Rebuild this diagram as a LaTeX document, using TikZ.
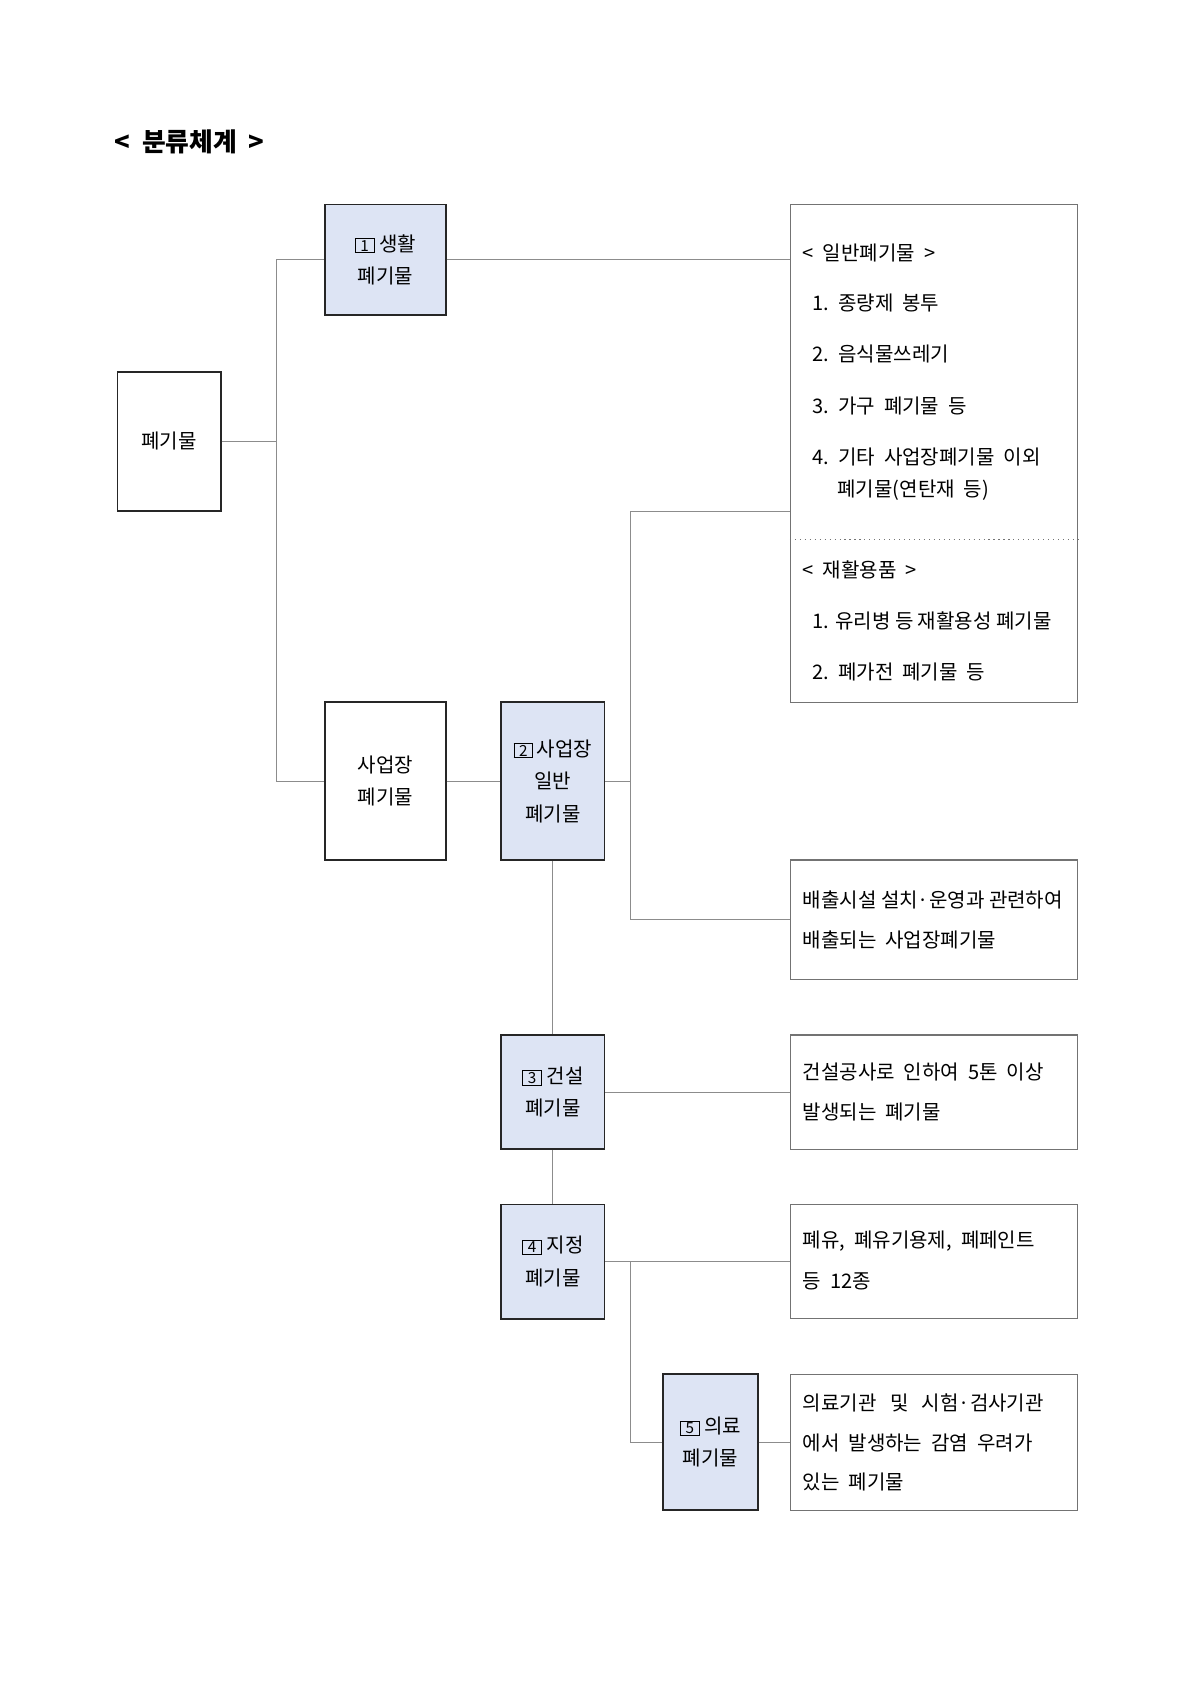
\documentclass[tikz,border=0pt]{standalone}
\usepackage{fontspec}
\setmainfont{Noto Sans CJK KR}
\usetikzlibrary{positioning}
\definecolor{boxblue}{HTML}{DDE4F4}
\newcommand{\numbx}[1]{{\setlength{\fboxsep}{0.5pt}\setlength{\fboxrule}{0.5pt}\fbox{\makebox[0.8em]{\footnotesize #1}}}}
\tikzset{
  cat/.style = {rectangle, draw = black!85, line width = 0.9pt, align = center, inner sep = 0pt, font = \fontsize{10.5}{17}\selectfont},
  catb/.style = {cat, fill = boxblue},
  info/.style = {rectangle, draw = black!55, line width = 0.6pt, inner sep = 0pt},
  txt/.style = {anchor = west, inner sep = 0pt, font = \fontsize{10.5}{13}\selectfont},
  link/.style = {draw = black!45, line width = 0.5pt}
}
\begin{document}
\begin{tikzpicture}[x = 0.02cm, y = -0.02cm]
\useasboundingbox (0,0) rectangle (1104,1560);
\node (title) [anchor = west, inner sep = 0pt, font = \fontsize{13.5}{16}\selectfont\bfseries] at (105,130) {<\ \ 분류체계\ \ >};

% left side
\node (waste) [cat, minimum width = 1.9cm, minimum height = 2.56cm] at (155.5,406) {폐기물};
\node (home) [catb, minimum width = 2.22cm, minimum height = 2.04cm] at (354.5,239) {\numbx{1}\ 생활\\폐기물};
\node (biz) [cat, minimum width = 2.22cm, minimum height = 2.9cm] at (354.5,718.5) {사업장\\폐기물};
\node (bizgen) [catb, minimum width = 1.9cm, minimum height = 2.9cm] at (508.5,718.5) {\numbx{2}\,사업장\\일반\\폐기물};
\node (build) [catb, minimum width = 1.9cm, minimum height = 2.1cm] at (508.5,1004.5) {\numbx{3}\ 건설\\폐기물};
\node (desig) [catb, minimum width = 1.9cm, minimum height = 2.1cm] at (508.5,1160.5) {\numbx{4}\ 지정\\폐기물};
\node (med) [catb, minimum width = 1.74cm, minimum height = 2.5cm] at (653.5,1326.5) {\numbx{5}\ 의료\\폐기물};

% right side
\node (gen) [info, minimum width = 5.28cm, minimum height = 9.16cm] at (859,417) {};
\draw [black!55, dotted, line width = 0.6pt] (gen.west |- 0,496) -- (gen.east |- 0,496);
\node (g0) [txt] at (738,233) {<\ \ 일반폐기물\ \ >};
\node (g1) [txt] at (747,279) {1.\ \ 종량제\ \ 봉투};
\node (g2) [txt] at (747,326) {2.\ \ 음식물쓰레기};
\node (g3) [txt] at (747,373) {3.\ \ 가구\ \ 폐기물\ \ 등};
\node (g4) [txt] at (747,420) {4.\ \ 기타\ \ 사업장폐기물\ \ 이외};
\node (g5) [txt] at (770,451) {폐기물(연탄재\ \ 등)};
\node (r0) [txt] at (738,524) {<\ \ 재활용품\ \ >};
\node (r1) [txt] at (747,571) {1. 유리병 등 재활용성 폐기물};
\node (r2) [txt] at (747,618) {2.\ \ 폐가전\ \ 폐기물\ \ 등};

\node (plant) [info, minimum width = 5.28cm, minimum height = 2.2cm] at (859,846) {};
\node [txt] at (738,828) {배출시설 설치·운영과 관련하여};
\node [txt] at (738,865) {배출되는\ \ 사업장폐기물};
\node (constr) [info, minimum width = 5.28cm, minimum height = 2.1cm] at (859,1004.5) {};
\node [txt] at (738,986) {건설공사로\ \ 인하여\ \ 5톤\ \ 이상};
\node [txt] at (738,1023) {발생되는\ \ 폐기물};
\node (oil) [info, minimum width = 5.28cm, minimum height = 2.1cm] at (859,1160.5) {};
\node [txt] at (738,1142) {폐유,\ \ 폐유기용제,\ \ 폐페인트};
\node [txt] at (738,1179) {등\ \ 12종};
\node (hosp) [info, minimum width = 5.28cm, minimum height = 2.5cm] at (859,1326.5) {};
\node [txt] at (738,1290) {의료기관\ \ \ 및\ \ \ 시험·검사기관};
\node [txt] at (738,1327) {에서\ \ 발생하는\ \ 감염\ \ 우려가};
\node [txt] at (738,1363) {있는\ \ 폐기물};

% connectors
\coordinate (sp1) at (254,406);
\coordinate (sp2) at (580,718.5);
\coordinate (sp3) at (580,1160.5);
\draw [link] (waste.east) -- (sp1);
\draw [link] (home.west) -| (sp1) |- (biz.west);
\draw [link] (home.east) -- (home.east -| gen.west);
\draw [link] (biz.east) -- (bizgen.west);
\draw [link] (bizgen.east) -- (sp2);
\draw [link] (gen.west |- 0,470) -| (sp2) |- (plant.west);
\draw [link] (bizgen.south) -- (build.north);
\draw [link] (build.south) -- (desig.north);
\draw [link] (build.east) -- (constr.west);
\draw [link] (desig.east) -- (oil.west);
\draw [link] (sp3) |- (med.west);
\draw [link] (med.east) -- (hosp.west);
\end{tikzpicture}
\end{document}
